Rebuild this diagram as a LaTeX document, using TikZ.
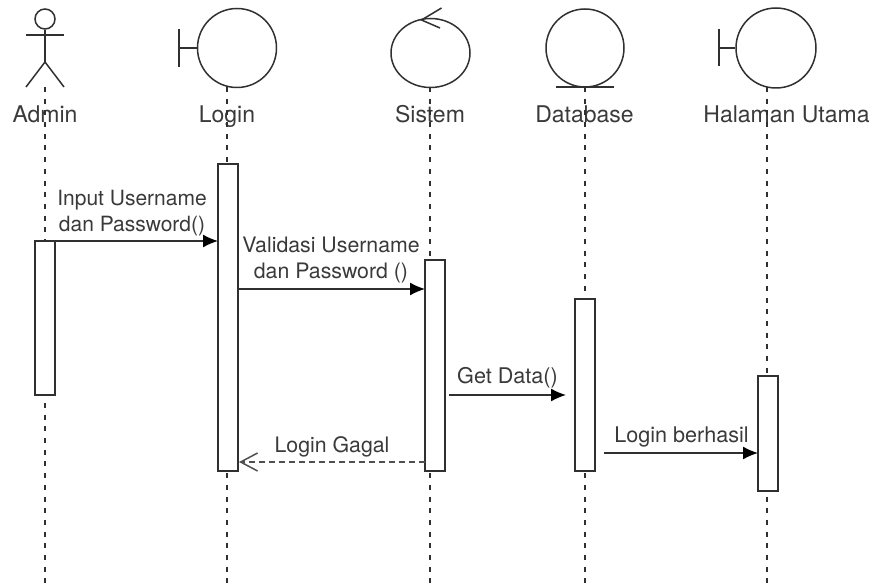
\documentclass[tikz,border=0pt]{standalone}
\usepackage{fontspec}
\setmainfont{TeX Gyre Heros}
\usetikzlibrary{arrows.meta,shapes.geometric}
\definecolor{ink}{HTML}{303030}
\definecolor{txt}{HTML}{3A3A3A}
\tikzset{
  x=1pt,y=-1pt,
  fig/.style={draw=ink,line width=1.5pt},
  lifeline/.style={draw=ink,line width=1.5pt,dash pattern=on 5pt off 6.7pt},
  bar/.style={draw=ink,fill=white,line width=1.5pt,minimum width=20pt,inner sep=0pt,outer sep=0pt,anchor=north},
  title/.style={font=\fontsize{23}{25}\selectfont,text=txt,inner sep=0pt,anchor=base},
  msg/.style={font=\fontsize{21.3}{26}\selectfont,text=txt,inner sep=0pt,align=center},
  call/.style={draw=ink,line width=1.3pt,-{Latex[black,length=15pt,width=13pt]}},
  back/.style={draw=ink!85,line width=1.6pt,dash pattern=on 6pt off 4pt,-{Straight Barb[length=17pt,width=18pt,line width=1.5pt]}},
}
\begin{document}
\begin{tikzpicture}
\useasboundingbox (0,0) rectangle (873,588);
% titles
\node[title] (tAdmin) at (45,123) {Admin};
\node[title] (tLogin) at (227,123) {Login};
\node[title] (tSistem) at (430,123) {Sistem};
\node[title] (tDb) at (584.5,123) {Database};
\node[title] (tHal) at (786.5,123) {Halaman Utama};
% figures
\coordinate (hAdmin) at (45,87);
\node[fig,circle,minimum size=20pt,inner sep=0pt] (head) at (45,19) {};
\coordinate (armL) at (26,35); \coordinate (armR) at (64,35);
\coordinate (hip) at (45,62); \coordinate (legL) at (26,87); \coordinate (legR) at (64,87);
\draw[fig] (armL) -- (armR);
\draw[fig] (head.south) -- (hip);
\draw[fig] (legL) -- (hip) -- (legR);
\node[fig,circle,minimum size=79pt,inner sep=0pt] (cLogin) at (237,48) {};
\coordinate (bLoginT) at (179,29); \coordinate (bLoginB) at (179,67); \coordinate (bLoginM) at (179,48);
\draw[fig] (bLoginT) -- (bLoginB);
\draw[fig] (bLoginM) -- (cLogin.west);
\node[fig,ellipse,minimum width=79pt,minimum height=69pt,inner sep=0pt] (cSistem) at (430.5,53) {};
\coordinate (aTip) at (421.5,20); \coordinate (aU) at (441.5,8); \coordinate (aD) at (440,28);
\draw[fig] (aU) -- (aTip) -- (aD);
\node[fig,circle,minimum size=78pt,inner sep=0pt] (cDb) at (585,48) {};
\coordinate (dbL) at (556,87); \coordinate (dbR) at (614,87);
\draw[fig] (dbL) -- (dbR);
\node[fig,circle,minimum size=80pt,inner sep=0pt] (cHal) at (776,48) {};
\coordinate (bHalT) at (719,29); \coordinate (bHalB) at (719,66); \coordinate (bHalM) at (719,48);
\draw[fig] (bHalT) -- (bHalB);
\draw[fig] (bHalM) -- (cHal.west);
% lifeline ends
\coordinate (eAdmin) at (45,588); \coordinate (sLogin) at (227,87); \coordinate (eLogin) at (227,588);
\coordinate (sSistem) at (430,87); \coordinate (eSistem) at (430,588);
\coordinate (sDb) at (585,87); \coordinate (eDb) at (585,588);
\coordinate (sHal) at (767,87); \coordinate (eHal) at (767,588);
\draw[lifeline] (hAdmin) -- (eAdmin);
\draw[lifeline] (sLogin) -- (eLogin);
\draw[lifeline] (sSistem) -- (eSistem);
\draw[lifeline] (sDb) -- (eDb);
\draw[lifeline] (sHal) -- (eHal);
% activations
\node[bar,minimum height=154pt] (aAdmin) at (45,241) {};
\node[bar,minimum height=307pt] (aLogin) at (228,164) {};
\node[bar,minimum height=211pt] (aSistem) at (435,260) {};
\node[bar,minimum height=172pt] (aDb) at (585,299) {};
\node[bar,minimum height=115pt] (aHal) at (768,376) {};
% messages
\draw[call] (aAdmin.north east) -- (aLogin.west |- aAdmin.north east);
\coordinate (m2) at (238,289);
\draw[call] (m2) -- (aSistem.west |- m2);
\coordinate (m3) at (449,395); \coordinate (m3e) at (566,395);
\draw[call] (m3) -- (m3e);
\coordinate (m4) at (604,453);
\draw[call] (m4) -- (aHal.west |- m4);
\coordinate (m5) at (aSistem.west |- 0,462); \coordinate (m5e) at (239,462);
\draw[back] (m5) -- (m5e);
% labels
\node[msg,font=\fontsize{21}{26}\selectfont] (l1) at (132,213) {Input Username\\dan Password()};
\node[msg] (l2) at (331,260) {Validasi Username\\dan Password ()};
\node[msg,font=\fontsize{21.6}{26}\selectfont] (l3) at (507.5,377.5) {Get Data()};
\node[msg,font=\fontsize{21.6}{26}\selectfont] (l4) at (681.5,437) {Login berhasil};
\node[msg] (l5) at (332,447) {Login Gagal};
\end{tikzpicture}
\end{document}
